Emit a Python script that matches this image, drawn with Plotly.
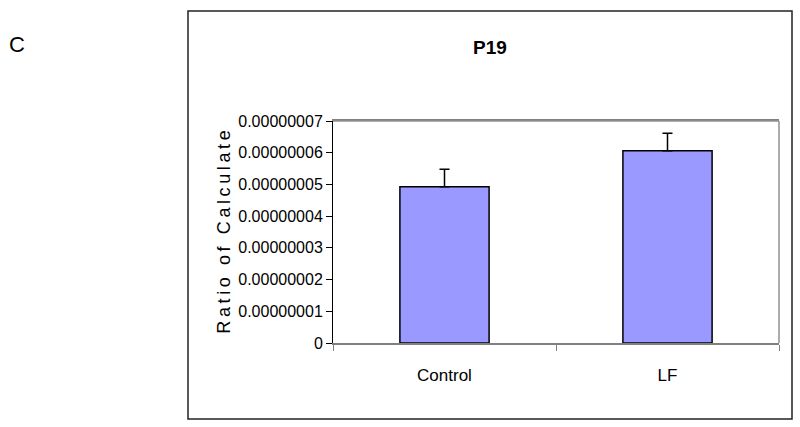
import plotly.graph_objects as go

categories = ["Control", "LF"]
values = [4.93e-8, 6.06e-8]
errors_plus = [0.55e-8, 0.55e-8]
errors_minus = [0.0, 0.0]
ytick_vals = [0, 1e-8, 2e-8, 3e-8, 4e-8, 5e-8, 6e-8, 7e-8]
ytick_text = ["0", "0.00000001", "0.00000002", "0.00000003", "0.00000004",
              "0.00000005", "0.00000006", "0.00000007"]
title_text = "P19"
ytitle_text = "Ratio of Calculate"
panel_label = "C"

W, H = 800, 427
L, R, T, B = 333, 779, 121, 343
pw, ph = R - L, B - T

def px(x):
    return (x - L) / pw

def py(y):
    return (B - y) / ph

sans = "Liberation Sans, Arial, sans-serif"
thin = "\u2009"
spaced_title = thin.join(list(ytitle_text))

fig = go.Figure()
fig.add_trace(go.Bar(
    x=categories, y=values,
    marker=dict(color="#9999FF", line=dict(color="#000000", width=1.5)),
    error_y=dict(type="data", symmetric=False, array=errors_plus,
                 arrayminus=errors_minus, color="#000000", thickness=1.5, width=5),
    width=0.4,
))

fig.update_layout(
    width=W, height=H,
    margin=dict(l=L, r=W - R, t=T, b=H - B, pad=0),
    paper_bgcolor="white", plot_bgcolor="white",
    showlegend=False,
    title=dict(text=title_text, x=px(490), xref="paper", xanchor="center",
               y=1 - 47 / H, yref="container", yanchor="middle",
               font=dict(family=sans, size=19, color="#000000", weight="bold")),
    font=dict(family=sans, size=16, color="#000000"),
)

fig.update_xaxes(
    type="category", showline=True, linecolor="#808080", linewidth=1.5,
    mirror=True, ticks="outside", tickson="boundaries", ticklen=6,
    tickcolor="#808080", tickwidth=1, showgrid=False,
    ticklabelstandoff=16,
    tickfont=dict(family=sans, size=17, color="#000000"),
)
fig.update_yaxes(
    range=[0, 7e-8], tickvals=ytick_vals, ticktext=ytick_text,
    showline=True, linecolor="#000000", linewidth=1, ticks="outside",
    ticklen=6, tickcolor="#000000", showgrid=False, zeroline=False,
    tickfont=dict(family=sans, size=16, color="#000000"),
    title=dict(text=spaced_title, standoff=2,
               font=dict(family=sans, size=18, color="#000000")),
)

# plot-area right/top border (gray)
fig.add_shape(type="line", xref="paper", yref="paper", x0=0, x1=1, y0=1, y1=1,
              line=dict(color="#909090", width=1.5))
fig.add_shape(type="line", xref="paper", yref="paper", x0=1, x1=1, y0=0, y1=1,
              line=dict(color="#909090", width=1.5))
# outer chart border
fig.add_shape(type="rect", xref="paper", yref="paper",
              x0=px(188), x1=px(792), y0=py(419), y1=py(11),
              line=dict(color="#222222", width=1.5), fillcolor="rgba(0,0,0,0)",
              layer="below")

fig.add_annotation(text=panel_label, xref="paper", yref="paper",
                   x=px(17), y=py(45), xanchor="center", yanchor="middle",
                   showarrow=False,
                   font=dict(family=sans, size=22, color="#000000"))

fig.write_html("out.html", config={"displayModeBar": False},
               post_script="document.body.style.margin='0';document.body.style.overflow='hidden';")
